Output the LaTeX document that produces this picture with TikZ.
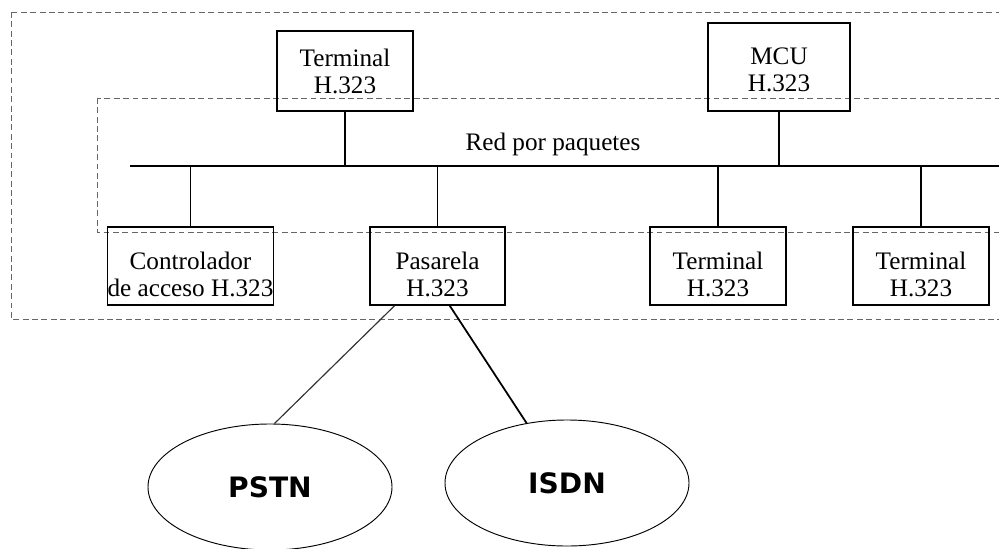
\documentclass[tikz,border=0pt]{standalone}
\usepackage{fontspec}
\setmainfont{Liberation Serif}
\newfontfamily\netfont{DejaVu Sans}
\usepackage{tikz}
\usetikzlibrary{shapes.geometric,positioning,calc}
\newcommand{\lowstrut}{\rule{0pt}{30pt}}
\tikzstyle{unit}   =[rectangle, draw=black, line width=1.3pt, inner sep=0pt,
                     align=center, font=\fontsize{21.5pt}{23pt}\selectfont]
\tikzstyle{cloud}  =[ellipse, draw=black, line width=0.8pt, minimum width=7.32cm,
                     minimum height=3.78cm, font=\netfont\bfseries\fontsize{24pt}{26pt}\selectfont]
\tikzstyle{dashbox}=[draw=black!60, line width=0.8pt, dash pattern=on 5pt off 3pt]
\tikzstyle{link}   =[line width=1pt]

\begin{document}
\begin{tikzpicture}[x=0.03cm, y=-0.03cm]

  \useasboundingbox (0,0) rectangle (999,548);
  \clip (0,0) rectangle (999,548);

  % ── zones ──────────────────────────────────────────────────────────────────
  \draw[dashbox] (11,12) rectangle (1010,319);
  \draw[dashbox] (97,98) rectangle (1010,232);

  % ── nodes ──────────────────────────────────────────────────────────────────
  \node[unit, minimum width=4.08cm, minimum height=2.4cm]  (term1)    at (345,71)    {Terminal\\H.323};
  \node[unit, minimum width=4.26cm, minimum height=2.64cm] (mcu)      at (779,67)    {\rule{0pt}{19pt}MCU\\H.323};
  \node[unit, minimum width=4.98cm, minimum height=2.34cm] (ctrl)     at (190.5,266) {\lowstrut Controlador\\de acceso H.323};
  \node[unit, minimum width=4.05cm, minimum height=2.34cm] (pasarela) at (437.5,266) {\lowstrut Pasarela\\H.323};
  \node[unit, minimum width=4.08cm, minimum height=2.34cm] (term2)    at (718,266)   {\lowstrut Terminal\\H.323};
  \node[unit, minimum width=4.08cm, minimum height=2.34cm] (term3)    at (921,266)   {\lowstrut Terminal\\H.323};
  \node[cloud] (pstn) at (270,487) {PSTN};
  \node[cloud] (isdn) at (567,483) {ISDN};
  \node[font=\fontsize{21.5pt}{23pt}\selectfont] (redlbl) at (553,144) {Red por paquetes};

  % ── packet network bus ─────────────────────────────────────────────────────
  \coordinate (busL) at (130,166);
  \coordinate (busR) at (1010,166);
  \draw[link] (busL) -- (busR);

  \draw[link] (term1.south)    -- (term1.south |- busL);
  \draw[link] (mcu.south)      -- (mcu.south |- busL);
  \draw[link] (ctrl.north)     -- (ctrl.north |- busL);
  \draw[link] (pasarela.north) -- (pasarela.north |- busL);
  \draw[link] (term2.north)    -- (term2.north |- busL);
  \draw[link] (term3.north)    -- (term3.north |- busL);

  % ── gateway to circuit networks ────────────────────────────────────────────
  \draw[link, black!80] ($(pasarela.south west)!0.185!(pasarela.south east)$) -- (pstn.86);
  \draw[line width=1.5pt] ($(pasarela.south west)!0.59!(pasarela.south east)$) -- (isdn.124);

\end{tikzpicture}
\end{document}
